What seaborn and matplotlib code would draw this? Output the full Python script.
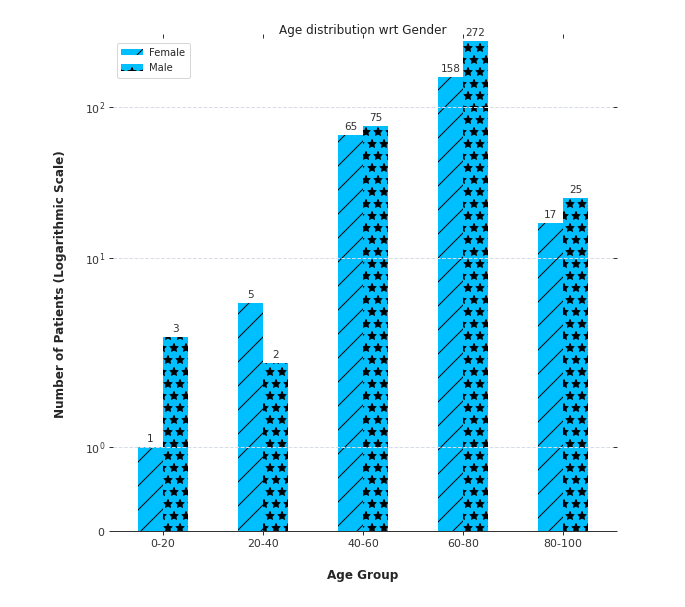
import matplotlib
matplotlib.use("Agg")
import matplotlib.pyplot as plt
import seaborn as sns
import pandas as pd

age_groups = ["0-20", "20-40", "40-60", "60-80", "80-100"]
female = [1, 5, 65, 158, 17]
male = [3, 2, 75, 272, 25]
genders = ["Female", "Male"]

df = pd.DataFrame({
    "Age Group": age_groups * 2,
    "Count": female + male,
    "Gender": ["Female"] * len(age_groups) + ["Male"] * len(age_groups),
})

DPI = 72
sns.set_style("white")
plt.rcParams["hatch.linewidth"] = 1.0
fig = plt.figure(figsize=(685 / DPI, 607 / DPI), dpi=DPI)
ax = fig.add_axes([113 / 685, (607 - 531) / 607, (613 - 113) / 685, (531 - 38) / 607])

sns.barplot(data=df, x="Age Group", y="Count", hue="Gender", hue_order=genders,
            palette=["#00BFFF", "#00BFFF"], width=0.5, ax=ax, linewidth=0,
            edgecolor="black", saturation=1)

hatches = {"Female": "/", "Male": "*"}
for cont, g in zip(ax.containers, genders):
    for bar in cont:
        bar.set_hatch(hatches[g])
        bar.set_edgecolor("black")
        bar.set_linewidth(0)
    ax.bar_label(cont, labels=[str(int(v)) for v in cont.datavalues], padding=3,
                 fontsize=10.5, color="#333333")

ax.set_yscale("symlog", linthresh=2, linscale=1)
ax.set_ylim(0, 272 * 1.05)
ax.set_xlim(-0.5, 4.5)
ax.set_yticks([0, 1, 10, 100])
ax.yaxis.set_minor_locator(matplotlib.ticker.NullLocator())

for s in ["left", "top", "right"]:
    ax.spines[s].set_visible(False)
ax.spines["bottom"].set_color("#333333")
ax.spines["bottom"].set_linewidth(1)

ax.tick_params(axis="both", which="major", direction="out", length=4, width=1,
               colors="#333333", labelsize=11, top=True, right=True, bottom=True, left=True,
               labelcolor="#333333", pad=4)
ax.yaxis.grid(True, linestyle="--", color="#d6dde8", linewidth=1)
ax.set_axisbelow(False)

ax.set_title("Age distribution wrt Gender", fontsize=12, pad=4, color="#222222")
ax.set_xlabel("Age Group", fontsize=12, fontweight="bold", labelpad=20)
ax.set_ylabel("Number of Patients (Logarithmic Scale)", fontsize=12, fontweight="bold", labelpad=18)

leg = ax.legend(loc="upper left", bbox_to_anchor=(-0.002, 1.0), fontsize=10, frameon=True,
                handlelength=2.1, handleheight=0.6, borderpad=0.45, labelspacing=0.55,
                handletextpad=0.7)
leg.get_frame().set_edgecolor("#cccccc")
for h, g in zip(leg.legend_handles, genders):
    h.set_hatch(hatches[g])
    h.set_edgecolor("black")
    h.set_linewidth(0)

fig.savefig("out.png", dpi=DPI)
